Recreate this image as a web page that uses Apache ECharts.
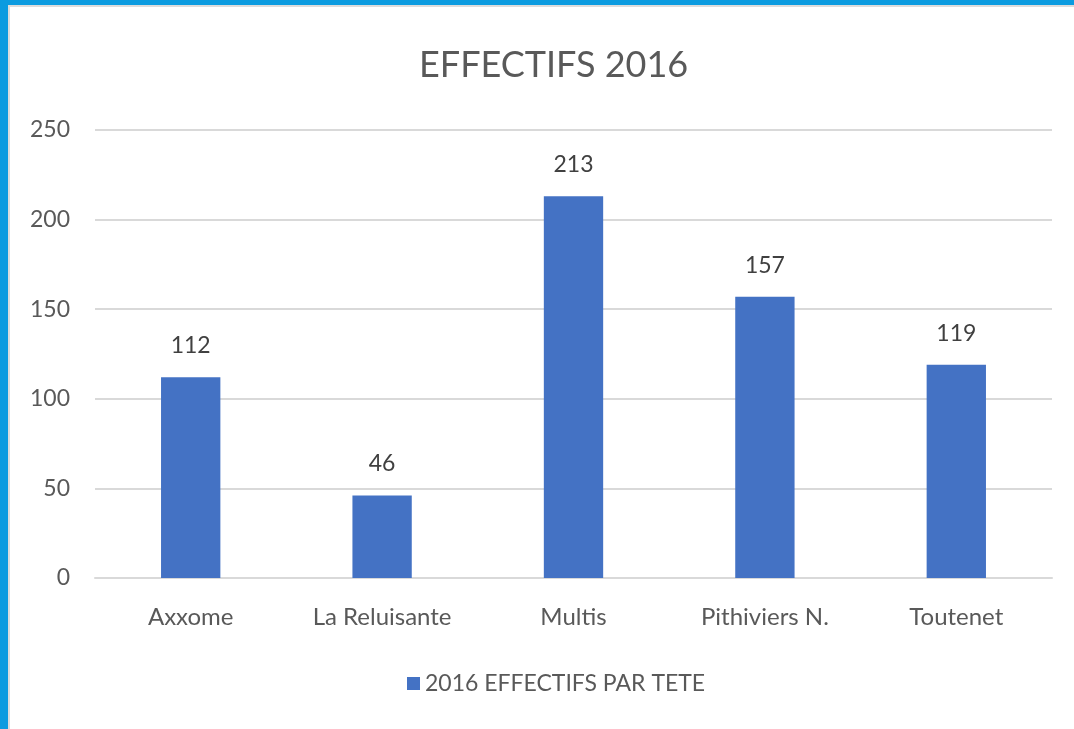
<!DOCTYPE html>
<html>
<head>
<meta charset="utf-8">
<script src="https://cdn.jsdelivr.net/npm/echarts@6/dist/echarts.min.js"></script>
<style>
  html, body { margin: 0; padding: 0; background: #fff; }
  #frame { position: absolute; left: 0; top: 0; width: 1074px; height: 729px; box-sizing: border-box;
           border-top: 5px solid #0b9be0; border-left: 8px solid #0b9be0; }
  #inner { position: absolute; left: 0; top: 0; right: 0; bottom: 0; border-top: 2px solid #dcdcdc; border-left: 2px solid #dcdcdc; }
  #chart { position: absolute; left: 0; top: 0; width: 1074px; height: 729px; }
</style>
</head>
<body>
<div id="frame"><div id="inner"></div></div>
<div id="chart"></div>
<script>
// données
var categories = ['Axxome', 'La Reluisante', 'Multis', 'Pithiviers N.', 'Toutenet'];
var effectifs = [112, 46, 213, 157, 119];
var seriesName = '2016 EFFECTIFS PAR TETE';

var font = 'Lato, "Open Sans", sans-serif';
var grey = '#595959';

var chart = echarts.init(document.getElementById('chart'), null, { renderer: 'canvas' });
var option = {
    backgroundColor: 'transparent',
    animation: false,
    title: {
        text: 'EFFECTIFS 2016',
        left: 414,
        top: 42,
        textStyle: { fontFamily: font, fontSize: 36, fontWeight: 'normal', color: grey }
    },
    legend: {
        bottom: 29,
        left: 402,
        itemWidth: 13,
        itemHeight: 13,
        icon: 'rect',
        itemGap: 8,
        textStyle: { fontFamily: font, fontSize: 23, color: grey },
        data: [seriesName]
    },
    grid: { left: 95, right: 22, top: 130, bottom: 151 },
    xAxis: {
        type: 'category',
        data: categories,
        axisLine: { lineStyle: { color: '#d9d9d9', width: 2 } },
        axisTick: { show: false },
        axisLabel: { fontFamily: font, fontSize: 24, color: grey, margin: 27 }
    },
    yAxis: {
        type: 'value',
        min: 0,
        max: 250,
        interval: 50,
        axisLine: { show: false },
        axisTick: { show: false },
        splitLine: { lineStyle: { color: '#d9d9d9', width: 2 } },
        axisLabel: { fontFamily: font, fontSize: 23, color: grey, margin: 25 }
    },
    series: [{
        name: seriesName,
        type: 'bar',
        data: effectifs,
        barWidth: '31%',
        itemStyle: { color: '#4472c4' },
        label: {
            show: true,
            position: 'top',
            distance: 20,
            fontFamily: font,
            fontSize: 23,
            color: '#404040'
        }
    }]
};
chart.setOption(option);
</script>
</body>
</html>
